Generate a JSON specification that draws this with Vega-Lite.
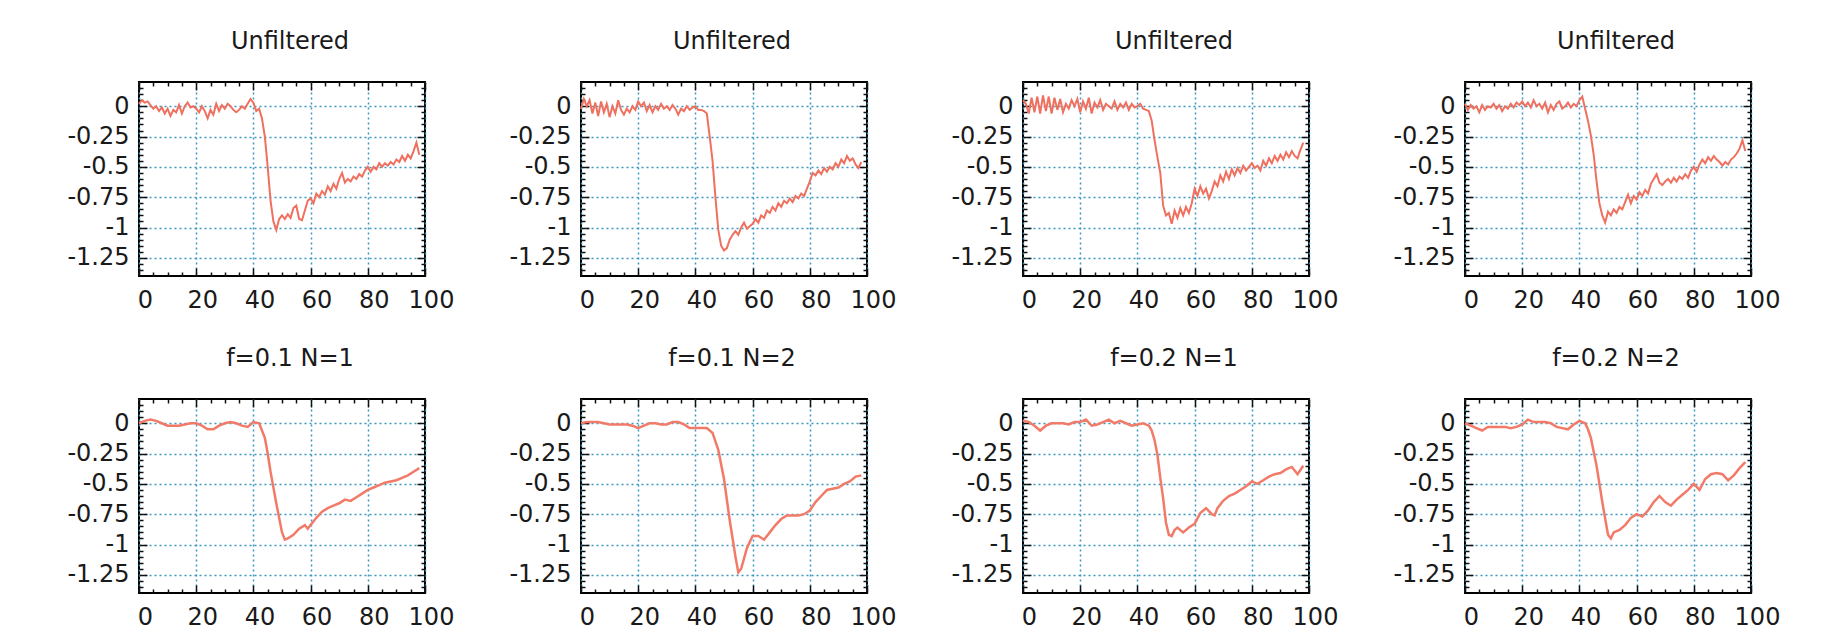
{
"$schema": "https://vega.github.io/schema/vega-lite/v6.json",
"background": "white",
"padding": {"left": 65, "top": 29, "right": 5, "bottom": 5},
"config": {
 "view": {"stroke": "#000", "strokeWidth": 2},
 "axis": {"domain": false, "labelFont": "DejaVu Sans", "labelFontSize": 24, "labelColor": "#1a1a1a", "tickColor": "#111", "tickWidth": 1.5, "gridColor": "#3a98c0", "gridDash": [2, 3], "gridWidth": 1.5, "gridOpacity": 1, "labelFlush": false, "labelOverlap": false, "labelExpr": "'' + datum.value"},
 "title": {"font": "DejaVu Sans", "fontSize": 24, "fontWeight": "normal", "color": "#1a1a1a", "anchor": "middle", "frame": "group", "baseline": "alphabetic", "offset": 27, "dx": 8}
},
"datasets": {
 "p1": [{"x":0,"y":0.02},{"x":1,"y":0.05},{"x":2,"y":0.03},{"x":3,"y":0.04},{"x":4,"y":0.01},{"x":5,"y":-0.02},{"x":6,"y":0.0},{"x":7,"y":-0.04},{"x":8,"y":-0.01},{"x":9,"y":-0.06},{"x":10,"y":-0.02},{"x":11,"y":-0.08},{"x":12,"y":-0.03},{"x":13,"y":-0.05},{"x":14,"y":0.01},{"x":15,"y":-0.06},{"x":16,"y":0.0},{"x":17,"y":0.03},{"x":18,"y":-0.01},{"x":19,"y":0.0},{"x":20,"y":-0.02},{"x":21,"y":-0.05},{"x":22,"y":0.0},{"x":23,"y":-0.04},{"x":24,"y":-0.1},{"x":25,"y":-0.03},{"x":26,"y":-0.07},{"x":27,"y":0.02},{"x":28,"y":-0.04},{"x":29,"y":0.01},{"x":30,"y":-0.02},{"x":31,"y":0.02},{"x":32,"y":0.0},{"x":33,"y":-0.03},{"x":34,"y":-0.05},{"x":35,"y":-0.03},{"x":36,"y":0.0},{"x":37,"y":-0.02},{"x":38,"y":0.02},{"x":39,"y":0.06},{"x":40,"y":0.03},{"x":41,"y":-0.04},{"x":42,"y":-0.02},{"x":43,"y":-0.1},{"x":44,"y":-0.25},{"x":45,"y":-0.5},{"x":46,"y":-0.78},{"x":47,"y":-0.95},{"x":48,"y":-1.02},{"x":49,"y":-0.93},{"x":50,"y":-0.9},{"x":51,"y":-0.93},{"x":52,"y":-0.89},{"x":53,"y":-0.92},{"x":54,"y":-0.84},{"x":55,"y":-0.82},{"x":56,"y":-0.93},{"x":57,"y":-0.94},{"x":58,"y":-0.86},{"x":59,"y":-0.78},{"x":60,"y":-0.76},{"x":61,"y":-0.8},{"x":62,"y":-0.72},{"x":63,"y":-0.75},{"x":64,"y":-0.7},{"x":65,"y":-0.73},{"x":66,"y":-0.66},{"x":67,"y":-0.7},{"x":68,"y":-0.64},{"x":69,"y":-0.68},{"x":70,"y":-0.6},{"x":71,"y":-0.55},{"x":72,"y":-0.63},{"x":73,"y":-0.6},{"x":74,"y":-0.62},{"x":75,"y":-0.58},{"x":76,"y":-0.6},{"x":77,"y":-0.56},{"x":78,"y":-0.58},{"x":79,"y":-0.53},{"x":80,"y":-0.5},{"x":81,"y":-0.54},{"x":82,"y":-0.5},{"x":83,"y":-0.52},{"x":84,"y":-0.47},{"x":85,"y":-0.5},{"x":86,"y":-0.47},{"x":87,"y":-0.49},{"x":88,"y":-0.46},{"x":89,"y":-0.48},{"x":90,"y":-0.44},{"x":91,"y":-0.46},{"x":92,"y":-0.41},{"x":93,"y":-0.45},{"x":94,"y":-0.4},{"x":95,"y":-0.43},{"x":96,"y":-0.37},{"x":97,"y":-0.3},{"x":98,"y":-0.4}],
 "p2": [{"x":0,"y":-0.02},{"x":1,"y":0.06},{"x":2,"y":0.0},{"x":3,"y":0.05},{"x":4,"y":-0.06},{"x":5,"y":0.03},{"x":6,"y":-0.08},{"x":7,"y":0.04},{"x":8,"y":-0.05},{"x":9,"y":0.02},{"x":10,"y":-0.09},{"x":11,"y":0.0},{"x":12,"y":-0.06},{"x":13,"y":0.05},{"x":14,"y":-0.03},{"x":15,"y":-0.07},{"x":16,"y":-0.02},{"x":17,"y":-0.05},{"x":18,"y":0.0},{"x":19,"y":-0.03},{"x":20,"y":0.04},{"x":21,"y":0.0},{"x":22,"y":0.03},{"x":23,"y":-0.04},{"x":24,"y":0.01},{"x":25,"y":-0.05},{"x":26,"y":0.0},{"x":27,"y":-0.03},{"x":28,"y":0.02},{"x":29,"y":-0.02},{"x":30,"y":0.0},{"x":31,"y":-0.03},{"x":32,"y":0.01},{"x":33,"y":-0.02},{"x":34,"y":-0.07},{"x":35,"y":-0.02},{"x":36,"y":-0.04},{"x":37,"y":0.0},{"x":38,"y":-0.03},{"x":39,"y":-0.01},{"x":40,"y":0.0},{"x":41,"y":-0.03},{"x":42,"y":-0.03},{"x":43,"y":-0.04},{"x":44,"y":-0.06},{"x":45,"y":-0.25},{"x":46,"y":-0.45},{"x":47,"y":-0.75},{"x":48,"y":-1.02},{"x":49,"y":-1.15},{"x":50,"y":-1.19},{"x":51,"y":-1.17},{"x":52,"y":-1.1},{"x":53,"y":-1.06},{"x":54,"y":-1.03},{"x":55,"y":-1.06},{"x":56,"y":-1.0},{"x":57,"y":-0.96},{"x":58,"y":-1.01},{"x":59,"y":-0.99},{"x":60,"y":-0.97},{"x":61,"y":-0.93},{"x":62,"y":-0.96},{"x":63,"y":-0.9},{"x":64,"y":-0.92},{"x":65,"y":-0.86},{"x":66,"y":-0.88},{"x":67,"y":-0.83},{"x":68,"y":-0.86},{"x":69,"y":-0.8},{"x":70,"y":-0.83},{"x":71,"y":-0.78},{"x":72,"y":-0.8},{"x":73,"y":-0.76},{"x":74,"y":-0.79},{"x":75,"y":-0.74},{"x":76,"y":-0.76},{"x":77,"y":-0.72},{"x":78,"y":-0.74},{"x":79,"y":-0.68},{"x":80,"y":-0.62},{"x":81,"y":-0.55},{"x":82,"y":-0.57},{"x":83,"y":-0.53},{"x":84,"y":-0.56},{"x":85,"y":-0.51},{"x":86,"y":-0.54},{"x":87,"y":-0.5},{"x":88,"y":-0.52},{"x":89,"y":-0.47},{"x":90,"y":-0.5},{"x":91,"y":-0.44},{"x":92,"y":-0.47},{"x":93,"y":-0.41},{"x":94,"y":-0.45},{"x":95,"y":-0.43},{"x":96,"y":-0.48},{"x":97,"y":-0.51},{"x":98,"y":-0.46}],
 "p3": [{"x":0,"y":0.05},{"x":1,"y":0.02},{"x":2,"y":-0.06},{"x":3,"y":0.07},{"x":4,"y":-0.05},{"x":5,"y":0.08},{"x":6,"y":-0.06},{"x":7,"y":0.09},{"x":8,"y":-0.04},{"x":9,"y":0.08},{"x":10,"y":-0.06},{"x":11,"y":0.07},{"x":12,"y":-0.03},{"x":13,"y":0.06},{"x":14,"y":-0.05},{"x":15,"y":0.02},{"x":16,"y":-0.02},{"x":17,"y":0.05},{"x":18,"y":0.0},{"x":19,"y":0.06},{"x":20,"y":-0.05},{"x":21,"y":0.04},{"x":22,"y":-0.02},{"x":23,"y":0.07},{"x":24,"y":-0.06},{"x":25,"y":0.03},{"x":26,"y":-0.01},{"x":27,"y":0.05},{"x":28,"y":-0.03},{"x":29,"y":0.02},{"x":30,"y":0.0},{"x":31,"y":-0.02},{"x":32,"y":0.04},{"x":33,"y":-0.03},{"x":34,"y":0.02},{"x":35,"y":-0.01},{"x":36,"y":0.03},{"x":37,"y":-0.03},{"x":38,"y":0.02},{"x":39,"y":-0.01},{"x":40,"y":0.0},{"x":41,"y":0.02},{"x":42,"y":-0.02},{"x":43,"y":-0.03},{"x":44,"y":-0.04},{"x":45,"y":-0.12},{"x":46,"y":-0.28},{"x":47,"y":-0.42},{"x":48,"y":-0.55},{"x":49,"y":-0.82},{"x":50,"y":-0.9},{"x":51,"y":-0.88},{"x":52,"y":-0.97},{"x":53,"y":-0.86},{"x":54,"y":-0.92},{"x":55,"y":-0.84},{"x":56,"y":-0.9},{"x":57,"y":-0.83},{"x":58,"y":-0.88},{"x":59,"y":-0.8},{"x":60,"y":-0.68},{"x":61,"y":-0.74},{"x":62,"y":-0.66},{"x":63,"y":-0.72},{"x":64,"y":-0.68},{"x":65,"y":-0.76},{"x":66,"y":-0.7},{"x":67,"y":-0.62},{"x":68,"y":-0.66},{"x":69,"y":-0.57},{"x":70,"y":-0.62},{"x":71,"y":-0.54},{"x":72,"y":-0.6},{"x":73,"y":-0.52},{"x":74,"y":-0.57},{"x":75,"y":-0.51},{"x":76,"y":-0.55},{"x":77,"y":-0.49},{"x":78,"y":-0.53},{"x":79,"y":-0.5},{"x":80,"y":-0.47},{"x":81,"y":-0.51},{"x":82,"y":-0.49},{"x":83,"y":-0.53},{"x":84,"y":-0.45},{"x":85,"y":-0.49},{"x":86,"y":-0.43},{"x":87,"y":-0.47},{"x":88,"y":-0.41},{"x":89,"y":-0.45},{"x":90,"y":-0.4},{"x":91,"y":-0.44},{"x":92,"y":-0.38},{"x":93,"y":-0.42},{"x":94,"y":-0.37},{"x":95,"y":-0.41},{"x":96,"y":-0.43},{"x":97,"y":-0.36},{"x":98,"y":-0.3}],
 "p4": [{"x":0,"y":0.02},{"x":1,"y":-0.03},{"x":2,"y":0.01},{"x":3,"y":-0.02},{"x":4,"y":0.0},{"x":5,"y":-0.05},{"x":6,"y":0.01},{"x":7,"y":-0.03},{"x":8,"y":0.0},{"x":9,"y":-0.01},{"x":10,"y":0.02},{"x":11,"y":-0.02},{"x":12,"y":0.01},{"x":13,"y":-0.04},{"x":14,"y":0.0},{"x":15,"y":-0.02},{"x":16,"y":0.02},{"x":17,"y":-0.01},{"x":18,"y":0.03},{"x":19,"y":0.01},{"x":20,"y":0.04},{"x":21,"y":0.0},{"x":22,"y":0.03},{"x":23,"y":-0.01},{"x":24,"y":0.05},{"x":25,"y":0.0},{"x":26,"y":0.02},{"x":27,"y":-0.02},{"x":28,"y":0.03},{"x":29,"y":-0.05},{"x":30,"y":0.01},{"x":31,"y":-0.03},{"x":32,"y":0.02},{"x":33,"y":0.04},{"x":34,"y":-0.02},{"x":35,"y":0.0},{"x":36,"y":0.03},{"x":37,"y":-0.01},{"x":38,"y":0.02},{"x":39,"y":0.0},{"x":40,"y":0.05},{"x":41,"y":0.08},{"x":42,"y":-0.02},{"x":43,"y":-0.12},{"x":44,"y":-0.24},{"x":45,"y":-0.4},{"x":46,"y":-0.62},{"x":47,"y":-0.8},{"x":48,"y":-0.9},{"x":49,"y":-0.96},{"x":50,"y":-0.87},{"x":51,"y":-0.9},{"x":52,"y":-0.85},{"x":53,"y":-0.88},{"x":54,"y":-0.83},{"x":55,"y":-0.85},{"x":56,"y":-0.79},{"x":57,"y":-0.73},{"x":58,"y":-0.8},{"x":59,"y":-0.74},{"x":60,"y":-0.77},{"x":61,"y":-0.71},{"x":62,"y":-0.74},{"x":63,"y":-0.69},{"x":64,"y":-0.72},{"x":65,"y":-0.64},{"x":66,"y":-0.6},{"x":67,"y":-0.56},{"x":68,"y":-0.63},{"x":69,"y":-0.65},{"x":70,"y":-0.62},{"x":71,"y":-0.6},{"x":72,"y":-0.63},{"x":73,"y":-0.59},{"x":74,"y":-0.62},{"x":75,"y":-0.58},{"x":76,"y":-0.6},{"x":77,"y":-0.56},{"x":78,"y":-0.59},{"x":79,"y":-0.53},{"x":80,"y":-0.5},{"x":81,"y":-0.54},{"x":82,"y":-0.48},{"x":83,"y":-0.44},{"x":84,"y":-0.47},{"x":85,"y":-0.42},{"x":86,"y":-0.45},{"x":87,"y":-0.41},{"x":88,"y":-0.44},{"x":89,"y":-0.46},{"x":90,"y":-0.49},{"x":91,"y":-0.46},{"x":92,"y":-0.48},{"x":93,"y":-0.44},{"x":94,"y":-0.42},{"x":95,"y":-0.39},{"x":96,"y":-0.35},{"x":97,"y":-0.28},{"x":98,"y":-0.37}],
 "p5": [{"x":0,"y":0.0},{"x":2,"y":0.02},{"x":4,"y":0.03},{"x":6,"y":0.02},{"x":8,"y":0.0},{"x":10,"y":-0.02},{"x":12,"y":-0.02},{"x":14,"y":-0.02},{"x":16,"y":-0.01},{"x":18,"y":0.0},{"x":20,"y":0.0},{"x":22,"y":-0.02},{"x":24,"y":-0.05},{"x":26,"y":-0.05},{"x":28,"y":-0.02},{"x":30,"y":0.0},{"x":32,"y":0.01},{"x":34,"y":0.0},{"x":36,"y":-0.02},{"x":38,"y":-0.03},{"x":40,"y":0.01},{"x":42,"y":0.0},{"x":44,"y":-0.12},{"x":45,"y":-0.25},{"x":46,"y":-0.4},{"x":48,"y":-0.66},{"x":50,"y":-0.9},{"x":51,"y":-0.96},{"x":52,"y":-0.95},{"x":54,"y":-0.92},{"x":56,"y":-0.87},{"x":58,"y":-0.84},{"x":59,"y":-0.87},{"x":60,"y":-0.84},{"x":62,"y":-0.78},{"x":64,"y":-0.73},{"x":66,"y":-0.7},{"x":68,"y":-0.68},{"x":70,"y":-0.66},{"x":72,"y":-0.63},{"x":74,"y":-0.64},{"x":76,"y":-0.61},{"x":78,"y":-0.58},{"x":80,"y":-0.55},{"x":82,"y":-0.53},{"x":84,"y":-0.51},{"x":86,"y":-0.49},{"x":88,"y":-0.48},{"x":90,"y":-0.47},{"x":92,"y":-0.45},{"x":94,"y":-0.43},{"x":96,"y":-0.4},{"x":98,"y":-0.37}],
 "p6": [{"x":0,"y":0.0},{"x":2,"y":0.01},{"x":4,"y":0.01},{"x":6,"y":0.01},{"x":8,"y":0.0},{"x":10,"y":-0.01},{"x":12,"y":-0.01},{"x":14,"y":-0.01},{"x":16,"y":-0.01},{"x":18,"y":-0.02},{"x":20,"y":-0.04},{"x":22,"y":-0.02},{"x":24,"y":0.0},{"x":26,"y":0.0},{"x":28,"y":-0.01},{"x":30,"y":-0.01},{"x":32,"y":0.01},{"x":34,"y":0.01},{"x":36,"y":-0.01},{"x":38,"y":-0.04},{"x":40,"y":-0.04},{"x":42,"y":-0.04},{"x":44,"y":-0.04},{"x":46,"y":-0.08},{"x":48,"y":-0.22},{"x":50,"y":-0.46},{"x":52,"y":-0.8},{"x":54,"y":-1.1},{"x":55,"y":-1.23},{"x":56,"y":-1.2},{"x":58,"y":-1.03},{"x":60,"y":-0.93},{"x":62,"y":-0.93},{"x":64,"y":-0.96},{"x":66,"y":-0.9},{"x":68,"y":-0.84},{"x":70,"y":-0.79},{"x":72,"y":-0.76},{"x":74,"y":-0.76},{"x":76,"y":-0.76},{"x":78,"y":-0.75},{"x":80,"y":-0.72},{"x":82,"y":-0.65},{"x":84,"y":-0.6},{"x":86,"y":-0.55},{"x":88,"y":-0.54},{"x":90,"y":-0.53},{"x":92,"y":-0.5},{"x":94,"y":-0.48},{"x":96,"y":-0.44},{"x":98,"y":-0.43}],
 "p7": [{"x":0,"y":0.02},{"x":2,"y":0.01},{"x":4,"y":-0.02},{"x":6,"y":-0.06},{"x":8,"y":-0.02},{"x":10,"y":0.0},{"x":12,"y":0.0},{"x":14,"y":0.0},{"x":16,"y":-0.01},{"x":18,"y":0.01},{"x":20,"y":0.01},{"x":22,"y":0.03},{"x":24,"y":-0.02},{"x":26,"y":-0.01},{"x":28,"y":0.01},{"x":30,"y":0.03},{"x":32,"y":0.0},{"x":34,"y":0.02},{"x":36,"y":0.0},{"x":38,"y":-0.02},{"x":40,"y":-0.01},{"x":42,"y":0.0},{"x":44,"y":-0.02},{"x":45,"y":-0.06},{"x":46,"y":-0.14},{"x":47,"y":-0.26},{"x":48,"y":-0.45},{"x":49,"y":-0.62},{"x":50,"y":-0.82},{"x":51,"y":-0.92},{"x":52,"y":-0.93},{"x":53,"y":-0.88},{"x":54,"y":-0.86},{"x":56,"y":-0.9},{"x":58,"y":-0.86},{"x":60,"y":-0.83},{"x":62,"y":-0.74},{"x":64,"y":-0.7},{"x":66,"y":-0.75},{"x":67,"y":-0.76},{"x":68,"y":-0.7},{"x":70,"y":-0.64},{"x":72,"y":-0.6},{"x":74,"y":-0.58},{"x":76,"y":-0.55},{"x":78,"y":-0.52},{"x":80,"y":-0.48},{"x":82,"y":-0.5},{"x":84,"y":-0.47},{"x":86,"y":-0.44},{"x":88,"y":-0.42},{"x":90,"y":-0.41},{"x":92,"y":-0.38},{"x":94,"y":-0.36},{"x":96,"y":-0.42},{"x":98,"y":-0.35}],
 "p8": [{"x":0,"y":0.0},{"x":2,"y":-0.02},{"x":4,"y":-0.04},{"x":6,"y":-0.06},{"x":8,"y":-0.03},{"x":10,"y":-0.03},{"x":12,"y":-0.03},{"x":14,"y":-0.03},{"x":16,"y":-0.04},{"x":18,"y":-0.03},{"x":20,"y":-0.01},{"x":22,"y":0.03},{"x":24,"y":0.01},{"x":26,"y":0.01},{"x":28,"y":0.01},{"x":30,"y":0.0},{"x":32,"y":-0.03},{"x":34,"y":-0.04},{"x":36,"y":-0.05},{"x":38,"y":-0.01},{"x":40,"y":0.02},{"x":42,"y":0.0},{"x":43,"y":-0.05},{"x":44,"y":-0.12},{"x":46,"y":-0.35},{"x":48,"y":-0.65},{"x":50,"y":-0.92},{"x":51,"y":-0.95},{"x":52,"y":-0.9},{"x":54,"y":-0.88},{"x":56,"y":-0.84},{"x":58,"y":-0.78},{"x":60,"y":-0.75},{"x":62,"y":-0.77},{"x":64,"y":-0.72},{"x":66,"y":-0.65},{"x":68,"y":-0.6},{"x":70,"y":-0.65},{"x":72,"y":-0.68},{"x":74,"y":-0.63},{"x":76,"y":-0.59},{"x":78,"y":-0.55},{"x":80,"y":-0.5},{"x":82,"y":-0.55},{"x":84,"y":-0.46},{"x":86,"y":-0.42},{"x":88,"y":-0.41},{"x":90,"y":-0.42},{"x":92,"y":-0.47},{"x":94,"y":-0.43},{"x":96,"y":-0.37},{"x":98,"y":-0.32}]
},
"columns": 4,
"spacing": {"row": 123, "column": 156},
"bounds": "flush",
"concat": [
 {"title": {"text": "Unfiltered"}, "width": 286, "height": 194, "data": {"name": "p1"}, "resolve": {"axis": {"x": "independent", "y": "independent"}},
  "layer": [
   {"mark": {"type": "line", "color": "#f07060", "strokeWidth": 2}, "encoding": {"x": {"field": "x", "type": "quantitative", "scale": {"domain": [0, 100], "nice": false, "zero": false}, "axis": {"orient": "bottom", "title": null, "values": [0, 20, 40, 60, 80, 100], "grid": true, "ticks": false, "labelPadding": 12, "labelOffset": 6}}, "y": {"field": "y", "type": "quantitative", "scale": {"domain": [-1.4, 0.2], "nice": false, "zero": false}, "axis": {"orient": "left", "title": null, "values": [0, -0.25, -0.5, -0.75, -1, -1.25], "grid": true, "ticks": false, "labelPadding": 10}}}},
   {"mark": {"type": "line", "strokeOpacity": 0}, "encoding": {"x": {"field": "x", "type": "quantitative", "scale": {"domain": [0, 100], "nice": false, "zero": false}, "axis": {"orient": "bottom", "title": null, "values": [0, 20, 40, 60, 80, 100], "labels": false, "grid": false, "tickSize": -8}}, "y": {"field": "y", "type": "quantitative", "scale": {"domain": [-1.4, 0.2], "nice": false, "zero": false}, "axis": {"orient": "left", "title": null, "values": [0, -0.25, -0.5, -0.75, -1, -1.25], "labels": false, "grid": false, "tickSize": -8}}}},
   {"mark": {"type": "line", "strokeOpacity": 0}, "encoding": {"x": {"field": "x", "type": "quantitative", "scale": {"domain": [0, 100], "nice": false, "zero": false}, "axis": {"orient": "top", "title": null, "values": [0, 20, 40, 60, 80, 100], "labels": false, "grid": false, "tickSize": -8}}, "y": {"field": "y", "type": "quantitative", "scale": {"domain": [-1.4, 0.2], "nice": false, "zero": false}, "axis": {"orient": "right", "title": null, "values": [0, -0.25, -0.5, -0.75, -1, -1.25], "labels": false, "grid": false, "tickSize": -8}}}},
   {"mark": {"type": "line", "strokeOpacity": 0}, "encoding": {"x": {"field": "x", "type": "quantitative", "scale": {"domain": [0, 100], "nice": false, "zero": false}, "axis": {"orient": "bottom", "title": null, "values": [5, 10, 15, 25, 30, 35, 45, 50, 55, 65, 70, 75, 85, 90, 95], "labels": false, "grid": false, "tickSize": -4}}, "y": {"field": "y", "type": "quantitative", "scale": {"domain": [-1.4, 0.2], "nice": false, "zero": false}, "axis": {"orient": "left", "title": null, "values": [0.15, 0.1, 0.05, -0.05, -0.1, -0.15, -0.2, -0.3, -0.35, -0.4, -0.45, -0.55, -0.6, -0.65, -0.7, -0.8, -0.85, -0.9, -0.95, -1.05, -1.1, -1.15, -1.2, -1.3, -1.35], "labels": false, "grid": false, "tickSize": -4}}}},
   {"mark": {"type": "line", "strokeOpacity": 0}, "encoding": {"x": {"field": "x", "type": "quantitative", "scale": {"domain": [0, 100], "nice": false, "zero": false}, "axis": {"orient": "top", "title": null, "values": [5, 10, 15, 25, 30, 35, 45, 50, 55, 65, 70, 75, 85, 90, 95], "labels": false, "grid": false, "tickSize": -4}}, "y": {"field": "y", "type": "quantitative", "scale": {"domain": [-1.4, 0.2], "nice": false, "zero": false}, "axis": {"orient": "right", "title": null, "values": [0.15, 0.1, 0.05, -0.05, -0.1, -0.15, -0.2, -0.3, -0.35, -0.4, -0.45, -0.55, -0.6, -0.65, -0.7, -0.8, -0.85, -0.9, -0.95, -1.05, -1.1, -1.15, -1.2, -1.3, -1.35], "labels": false, "grid": false, "tickSize": -4}}}}
  ]},
 {"title": {"text": "Unfiltered"}, "width": 286, "height": 194, "data": {"name": "p2"}, "resolve": {"axis": {"x": "independent", "y": "independent"}},
  "layer": [
   {"mark": {"type": "line", "color": "#f07060", "strokeWidth": 2}, "encoding": {"x": {"field": "x", "type": "quantitative", "scale": {"domain": [0, 100], "nice": false, "zero": false}, "axis": {"orient": "bottom", "title": null, "values": [0, 20, 40, 60, 80, 100], "grid": true, "ticks": false, "labelPadding": 12, "labelOffset": 6}}, "y": {"field": "y", "type": "quantitative", "scale": {"domain": [-1.4, 0.2], "nice": false, "zero": false}, "axis": {"orient": "left", "title": null, "values": [0, -0.25, -0.5, -0.75, -1, -1.25], "grid": true, "ticks": false, "labelPadding": 10}}}},
   {"mark": {"type": "line", "strokeOpacity": 0}, "encoding": {"x": {"field": "x", "type": "quantitative", "scale": {"domain": [0, 100], "nice": false, "zero": false}, "axis": {"orient": "bottom", "title": null, "values": [0, 20, 40, 60, 80, 100], "labels": false, "grid": false, "tickSize": -8}}, "y": {"field": "y", "type": "quantitative", "scale": {"domain": [-1.4, 0.2], "nice": false, "zero": false}, "axis": {"orient": "left", "title": null, "values": [0, -0.25, -0.5, -0.75, -1, -1.25], "labels": false, "grid": false, "tickSize": -8}}}},
   {"mark": {"type": "line", "strokeOpacity": 0}, "encoding": {"x": {"field": "x", "type": "quantitative", "scale": {"domain": [0, 100], "nice": false, "zero": false}, "axis": {"orient": "top", "title": null, "values": [0, 20, 40, 60, 80, 100], "labels": false, "grid": false, "tickSize": -8}}, "y": {"field": "y", "type": "quantitative", "scale": {"domain": [-1.4, 0.2], "nice": false, "zero": false}, "axis": {"orient": "right", "title": null, "values": [0, -0.25, -0.5, -0.75, -1, -1.25], "labels": false, "grid": false, "tickSize": -8}}}},
   {"mark": {"type": "line", "strokeOpacity": 0}, "encoding": {"x": {"field": "x", "type": "quantitative", "scale": {"domain": [0, 100], "nice": false, "zero": false}, "axis": {"orient": "bottom", "title": null, "values": [5, 10, 15, 25, 30, 35, 45, 50, 55, 65, 70, 75, 85, 90, 95], "labels": false, "grid": false, "tickSize": -4}}, "y": {"field": "y", "type": "quantitative", "scale": {"domain": [-1.4, 0.2], "nice": false, "zero": false}, "axis": {"orient": "left", "title": null, "values": [0.15, 0.1, 0.05, -0.05, -0.1, -0.15, -0.2, -0.3, -0.35, -0.4, -0.45, -0.55, -0.6, -0.65, -0.7, -0.8, -0.85, -0.9, -0.95, -1.05, -1.1, -1.15, -1.2, -1.3, -1.35], "labels": false, "grid": false, "tickSize": -4}}}},
   {"mark": {"type": "line", "strokeOpacity": 0}, "encoding": {"x": {"field": "x", "type": "quantitative", "scale": {"domain": [0, 100], "nice": false, "zero": false}, "axis": {"orient": "top", "title": null, "values": [5, 10, 15, 25, 30, 35, 45, 50, 55, 65, 70, 75, 85, 90, 95], "labels": false, "grid": false, "tickSize": -4}}, "y": {"field": "y", "type": "quantitative", "scale": {"domain": [-1.4, 0.2], "nice": false, "zero": false}, "axis": {"orient": "right", "title": null, "values": [0.15, 0.1, 0.05, -0.05, -0.1, -0.15, -0.2, -0.3, -0.35, -0.4, -0.45, -0.55, -0.6, -0.65, -0.7, -0.8, -0.85, -0.9, -0.95, -1.05, -1.1, -1.15, -1.2, -1.3, -1.35], "labels": false, "grid": false, "tickSize": -4}}}}
  ]},
 {"title": {"text": "Unfiltered"}, "width": 286, "height": 194, "data": {"name": "p3"}, "resolve": {"axis": {"x": "independent", "y": "independent"}},
  "layer": [
   {"mark": {"type": "line", "color": "#f07060", "strokeWidth": 2}, "encoding": {"x": {"field": "x", "type": "quantitative", "scale": {"domain": [0, 100], "nice": false, "zero": false}, "axis": {"orient": "bottom", "title": null, "values": [0, 20, 40, 60, 80, 100], "grid": true, "ticks": false, "labelPadding": 12, "labelOffset": 6}}, "y": {"field": "y", "type": "quantitative", "scale": {"domain": [-1.4, 0.2], "nice": false, "zero": false}, "axis": {"orient": "left", "title": null, "values": [0, -0.25, -0.5, -0.75, -1, -1.25], "grid": true, "ticks": false, "labelPadding": 10}}}},
   {"mark": {"type": "line", "strokeOpacity": 0}, "encoding": {"x": {"field": "x", "type": "quantitative", "scale": {"domain": [0, 100], "nice": false, "zero": false}, "axis": {"orient": "bottom", "title": null, "values": [0, 20, 40, 60, 80, 100], "labels": false, "grid": false, "tickSize": -8}}, "y": {"field": "y", "type": "quantitative", "scale": {"domain": [-1.4, 0.2], "nice": false, "zero": false}, "axis": {"orient": "left", "title": null, "values": [0, -0.25, -0.5, -0.75, -1, -1.25], "labels": false, "grid": false, "tickSize": -8}}}},
   {"mark": {"type": "line", "strokeOpacity": 0}, "encoding": {"x": {"field": "x", "type": "quantitative", "scale": {"domain": [0, 100], "nice": false, "zero": false}, "axis": {"orient": "top", "title": null, "values": [0, 20, 40, 60, 80, 100], "labels": false, "grid": false, "tickSize": -8}}, "y": {"field": "y", "type": "quantitative", "scale": {"domain": [-1.4, 0.2], "nice": false, "zero": false}, "axis": {"orient": "right", "title": null, "values": [0, -0.25, -0.5, -0.75, -1, -1.25], "labels": false, "grid": false, "tickSize": -8}}}},
   {"mark": {"type": "line", "strokeOpacity": 0}, "encoding": {"x": {"field": "x", "type": "quantitative", "scale": {"domain": [0, 100], "nice": false, "zero": false}, "axis": {"orient": "bottom", "title": null, "values": [5, 10, 15, 25, 30, 35, 45, 50, 55, 65, 70, 75, 85, 90, 95], "labels": false, "grid": false, "tickSize": -4}}, "y": {"field": "y", "type": "quantitative", "scale": {"domain": [-1.4, 0.2], "nice": false, "zero": false}, "axis": {"orient": "left", "title": null, "values": [0.15, 0.1, 0.05, -0.05, -0.1, -0.15, -0.2, -0.3, -0.35, -0.4, -0.45, -0.55, -0.6, -0.65, -0.7, -0.8, -0.85, -0.9, -0.95, -1.05, -1.1, -1.15, -1.2, -1.3, -1.35], "labels": false, "grid": false, "tickSize": -4}}}},
   {"mark": {"type": "line", "strokeOpacity": 0}, "encoding": {"x": {"field": "x", "type": "quantitative", "scale": {"domain": [0, 100], "nice": false, "zero": false}, "axis": {"orient": "top", "title": null, "values": [5, 10, 15, 25, 30, 35, 45, 50, 55, 65, 70, 75, 85, 90, 95], "labels": false, "grid": false, "tickSize": -4}}, "y": {"field": "y", "type": "quantitative", "scale": {"domain": [-1.4, 0.2], "nice": false, "zero": false}, "axis": {"orient": "right", "title": null, "values": [0.15, 0.1, 0.05, -0.05, -0.1, -0.15, -0.2, -0.3, -0.35, -0.4, -0.45, -0.55, -0.6, -0.65, -0.7, -0.8, -0.85, -0.9, -0.95, -1.05, -1.1, -1.15, -1.2, -1.3, -1.35], "labels": false, "grid": false, "tickSize": -4}}}}
  ]},
 {"title": {"text": "Unfiltered"}, "width": 286, "height": 194, "data": {"name": "p4"}, "resolve": {"axis": {"x": "independent", "y": "independent"}},
  "layer": [
   {"mark": {"type": "line", "color": "#f07060", "strokeWidth": 2}, "encoding": {"x": {"field": "x", "type": "quantitative", "scale": {"domain": [0, 100], "nice": false, "zero": false}, "axis": {"orient": "bottom", "title": null, "values": [0, 20, 40, 60, 80, 100], "grid": true, "ticks": false, "labelPadding": 12, "labelOffset": 6}}, "y": {"field": "y", "type": "quantitative", "scale": {"domain": [-1.4, 0.2], "nice": false, "zero": false}, "axis": {"orient": "left", "title": null, "values": [0, -0.25, -0.5, -0.75, -1, -1.25], "grid": true, "ticks": false, "labelPadding": 10}}}},
   {"mark": {"type": "line", "strokeOpacity": 0}, "encoding": {"x": {"field": "x", "type": "quantitative", "scale": {"domain": [0, 100], "nice": false, "zero": false}, "axis": {"orient": "bottom", "title": null, "values": [0, 20, 40, 60, 80, 100], "labels": false, "grid": false, "tickSize": -8}}, "y": {"field": "y", "type": "quantitative", "scale": {"domain": [-1.4, 0.2], "nice": false, "zero": false}, "axis": {"orient": "left", "title": null, "values": [0, -0.25, -0.5, -0.75, -1, -1.25], "labels": false, "grid": false, "tickSize": -8}}}},
   {"mark": {"type": "line", "strokeOpacity": 0}, "encoding": {"x": {"field": "x", "type": "quantitative", "scale": {"domain": [0, 100], "nice": false, "zero": false}, "axis": {"orient": "top", "title": null, "values": [0, 20, 40, 60, 80, 100], "labels": false, "grid": false, "tickSize": -8}}, "y": {"field": "y", "type": "quantitative", "scale": {"domain": [-1.4, 0.2], "nice": false, "zero": false}, "axis": {"orient": "right", "title": null, "values": [0, -0.25, -0.5, -0.75, -1, -1.25], "labels": false, "grid": false, "tickSize": -8}}}},
   {"mark": {"type": "line", "strokeOpacity": 0}, "encoding": {"x": {"field": "x", "type": "quantitative", "scale": {"domain": [0, 100], "nice": false, "zero": false}, "axis": {"orient": "bottom", "title": null, "values": [5, 10, 15, 25, 30, 35, 45, 50, 55, 65, 70, 75, 85, 90, 95], "labels": false, "grid": false, "tickSize": -4}}, "y": {"field": "y", "type": "quantitative", "scale": {"domain": [-1.4, 0.2], "nice": false, "zero": false}, "axis": {"orient": "left", "title": null, "values": [0.15, 0.1, 0.05, -0.05, -0.1, -0.15, -0.2, -0.3, -0.35, -0.4, -0.45, -0.55, -0.6, -0.65, -0.7, -0.8, -0.85, -0.9, -0.95, -1.05, -1.1, -1.15, -1.2, -1.3, -1.35], "labels": false, "grid": false, "tickSize": -4}}}},
   {"mark": {"type": "line", "strokeOpacity": 0}, "encoding": {"x": {"field": "x", "type": "quantitative", "scale": {"domain": [0, 100], "nice": false, "zero": false}, "axis": {"orient": "top", "title": null, "values": [5, 10, 15, 25, 30, 35, 45, 50, 55, 65, 70, 75, 85, 90, 95], "labels": false, "grid": false, "tickSize": -4}}, "y": {"field": "y", "type": "quantitative", "scale": {"domain": [-1.4, 0.2], "nice": false, "zero": false}, "axis": {"orient": "right", "title": null, "values": [0.15, 0.1, 0.05, -0.05, -0.1, -0.15, -0.2, -0.3, -0.35, -0.4, -0.45, -0.55, -0.6, -0.65, -0.7, -0.8, -0.85, -0.9, -0.95, -1.05, -1.1, -1.15, -1.2, -1.3, -1.35], "labels": false, "grid": false, "tickSize": -4}}}}
  ]},
 {"title": {"text": "f=0.1 N=1"}, "width": 286, "height": 194, "data": {"name": "p5"}, "resolve": {"axis": {"x": "independent", "y": "independent"}},
  "layer": [
   {"mark": {"type": "line", "color": "#f27a68", "strokeWidth": 2.5}, "encoding": {"x": {"field": "x", "type": "quantitative", "scale": {"domain": [0, 100], "nice": false, "zero": false}, "axis": {"orient": "bottom", "title": null, "values": [0, 20, 40, 60, 80, 100], "grid": true, "ticks": false, "labelPadding": 12, "labelOffset": 6}}, "y": {"field": "y", "type": "quantitative", "scale": {"domain": [-1.4, 0.2], "nice": false, "zero": false}, "axis": {"orient": "left", "title": null, "values": [0, -0.25, -0.5, -0.75, -1, -1.25], "grid": true, "ticks": false, "labelPadding": 10}}}},
   {"mark": {"type": "line", "strokeOpacity": 0}, "encoding": {"x": {"field": "x", "type": "quantitative", "scale": {"domain": [0, 100], "nice": false, "zero": false}, "axis": {"orient": "bottom", "title": null, "values": [0, 20, 40, 60, 80, 100], "labels": false, "grid": false, "tickSize": -8}}, "y": {"field": "y", "type": "quantitative", "scale": {"domain": [-1.4, 0.2], "nice": false, "zero": false}, "axis": {"orient": "left", "title": null, "values": [0, -0.25, -0.5, -0.75, -1, -1.25], "labels": false, "grid": false, "tickSize": -8}}}},
   {"mark": {"type": "line", "strokeOpacity": 0}, "encoding": {"x": {"field": "x", "type": "quantitative", "scale": {"domain": [0, 100], "nice": false, "zero": false}, "axis": {"orient": "top", "title": null, "values": [0, 20, 40, 60, 80, 100], "labels": false, "grid": false, "tickSize": -8}}, "y": {"field": "y", "type": "quantitative", "scale": {"domain": [-1.4, 0.2], "nice": false, "zero": false}, "axis": {"orient": "right", "title": null, "values": [0, -0.25, -0.5, -0.75, -1, -1.25], "labels": false, "grid": false, "tickSize": -8}}}},
   {"mark": {"type": "line", "strokeOpacity": 0}, "encoding": {"x": {"field": "x", "type": "quantitative", "scale": {"domain": [0, 100], "nice": false, "zero": false}, "axis": {"orient": "bottom", "title": null, "values": [5, 10, 15, 25, 30, 35, 45, 50, 55, 65, 70, 75, 85, 90, 95], "labels": false, "grid": false, "tickSize": -4}}, "y": {"field": "y", "type": "quantitative", "scale": {"domain": [-1.4, 0.2], "nice": false, "zero": false}, "axis": {"orient": "left", "title": null, "values": [0.15, 0.1, 0.05, -0.05, -0.1, -0.15, -0.2, -0.3, -0.35, -0.4, -0.45, -0.55, -0.6, -0.65, -0.7, -0.8, -0.85, -0.9, -0.95, -1.05, -1.1, -1.15, -1.2, -1.3, -1.35], "labels": false, "grid": false, "tickSize": -4}}}},
   {"mark": {"type": "line", "strokeOpacity": 0}, "encoding": {"x": {"field": "x", "type": "quantitative", "scale": {"domain": [0, 100], "nice": false, "zero": false}, "axis": {"orient": "top", "title": null, "values": [5, 10, 15, 25, 30, 35, 45, 50, 55, 65, 70, 75, 85, 90, 95], "labels": false, "grid": false, "tickSize": -4}}, "y": {"field": "y", "type": "quantitative", "scale": {"domain": [-1.4, 0.2], "nice": false, "zero": false}, "axis": {"orient": "right", "title": null, "values": [0.15, 0.1, 0.05, -0.05, -0.1, -0.15, -0.2, -0.3, -0.35, -0.4, -0.45, -0.55, -0.6, -0.65, -0.7, -0.8, -0.85, -0.9, -0.95, -1.05, -1.1, -1.15, -1.2, -1.3, -1.35], "labels": false, "grid": false, "tickSize": -4}}}}
  ]},
 {"title": {"text": "f=0.1 N=2"}, "width": 286, "height": 194, "data": {"name": "p6"}, "resolve": {"axis": {"x": "independent", "y": "independent"}},
  "layer": [
   {"mark": {"type": "line", "color": "#f27a68", "strokeWidth": 2.5}, "encoding": {"x": {"field": "x", "type": "quantitative", "scale": {"domain": [0, 100], "nice": false, "zero": false}, "axis": {"orient": "bottom", "title": null, "values": [0, 20, 40, 60, 80, 100], "grid": true, "ticks": false, "labelPadding": 12, "labelOffset": 6}}, "y": {"field": "y", "type": "quantitative", "scale": {"domain": [-1.4, 0.2], "nice": false, "zero": false}, "axis": {"orient": "left", "title": null, "values": [0, -0.25, -0.5, -0.75, -1, -1.25], "grid": true, "ticks": false, "labelPadding": 10}}}},
   {"mark": {"type": "line", "strokeOpacity": 0}, "encoding": {"x": {"field": "x", "type": "quantitative", "scale": {"domain": [0, 100], "nice": false, "zero": false}, "axis": {"orient": "bottom", "title": null, "values": [0, 20, 40, 60, 80, 100], "labels": false, "grid": false, "tickSize": -8}}, "y": {"field": "y", "type": "quantitative", "scale": {"domain": [-1.4, 0.2], "nice": false, "zero": false}, "axis": {"orient": "left", "title": null, "values": [0, -0.25, -0.5, -0.75, -1, -1.25], "labels": false, "grid": false, "tickSize": -8}}}},
   {"mark": {"type": "line", "strokeOpacity": 0}, "encoding": {"x": {"field": "x", "type": "quantitative", "scale": {"domain": [0, 100], "nice": false, "zero": false}, "axis": {"orient": "top", "title": null, "values": [0, 20, 40, 60, 80, 100], "labels": false, "grid": false, "tickSize": -8}}, "y": {"field": "y", "type": "quantitative", "scale": {"domain": [-1.4, 0.2], "nice": false, "zero": false}, "axis": {"orient": "right", "title": null, "values": [0, -0.25, -0.5, -0.75, -1, -1.25], "labels": false, "grid": false, "tickSize": -8}}}},
   {"mark": {"type": "line", "strokeOpacity": 0}, "encoding": {"x": {"field": "x", "type": "quantitative", "scale": {"domain": [0, 100], "nice": false, "zero": false}, "axis": {"orient": "bottom", "title": null, "values": [5, 10, 15, 25, 30, 35, 45, 50, 55, 65, 70, 75, 85, 90, 95], "labels": false, "grid": false, "tickSize": -4}}, "y": {"field": "y", "type": "quantitative", "scale": {"domain": [-1.4, 0.2], "nice": false, "zero": false}, "axis": {"orient": "left", "title": null, "values": [0.15, 0.1, 0.05, -0.05, -0.1, -0.15, -0.2, -0.3, -0.35, -0.4, -0.45, -0.55, -0.6, -0.65, -0.7, -0.8, -0.85, -0.9, -0.95, -1.05, -1.1, -1.15, -1.2, -1.3, -1.35], "labels": false, "grid": false, "tickSize": -4}}}},
   {"mark": {"type": "line", "strokeOpacity": 0}, "encoding": {"x": {"field": "x", "type": "quantitative", "scale": {"domain": [0, 100], "nice": false, "zero": false}, "axis": {"orient": "top", "title": null, "values": [5, 10, 15, 25, 30, 35, 45, 50, 55, 65, 70, 75, 85, 90, 95], "labels": false, "grid": false, "tickSize": -4}}, "y": {"field": "y", "type": "quantitative", "scale": {"domain": [-1.4, 0.2], "nice": false, "zero": false}, "axis": {"orient": "right", "title": null, "values": [0.15, 0.1, 0.05, -0.05, -0.1, -0.15, -0.2, -0.3, -0.35, -0.4, -0.45, -0.55, -0.6, -0.65, -0.7, -0.8, -0.85, -0.9, -0.95, -1.05, -1.1, -1.15, -1.2, -1.3, -1.35], "labels": false, "grid": false, "tickSize": -4}}}}
  ]},
 {"title": {"text": "f=0.2 N=1"}, "width": 286, "height": 194, "data": {"name": "p7"}, "resolve": {"axis": {"x": "independent", "y": "independent"}},
  "layer": [
   {"mark": {"type": "line", "color": "#f27a68", "strokeWidth": 2.5}, "encoding": {"x": {"field": "x", "type": "quantitative", "scale": {"domain": [0, 100], "nice": false, "zero": false}, "axis": {"orient": "bottom", "title": null, "values": [0, 20, 40, 60, 80, 100], "grid": true, "ticks": false, "labelPadding": 12, "labelOffset": 6}}, "y": {"field": "y", "type": "quantitative", "scale": {"domain": [-1.4, 0.2], "nice": false, "zero": false}, "axis": {"orient": "left", "title": null, "values": [0, -0.25, -0.5, -0.75, -1, -1.25], "grid": true, "ticks": false, "labelPadding": 10}}}},
   {"mark": {"type": "line", "strokeOpacity": 0}, "encoding": {"x": {"field": "x", "type": "quantitative", "scale": {"domain": [0, 100], "nice": false, "zero": false}, "axis": {"orient": "bottom", "title": null, "values": [0, 20, 40, 60, 80, 100], "labels": false, "grid": false, "tickSize": -8}}, "y": {"field": "y", "type": "quantitative", "scale": {"domain": [-1.4, 0.2], "nice": false, "zero": false}, "axis": {"orient": "left", "title": null, "values": [0, -0.25, -0.5, -0.75, -1, -1.25], "labels": false, "grid": false, "tickSize": -8}}}},
   {"mark": {"type": "line", "strokeOpacity": 0}, "encoding": {"x": {"field": "x", "type": "quantitative", "scale": {"domain": [0, 100], "nice": false, "zero": false}, "axis": {"orient": "top", "title": null, "values": [0, 20, 40, 60, 80, 100], "labels": false, "grid": false, "tickSize": -8}}, "y": {"field": "y", "type": "quantitative", "scale": {"domain": [-1.4, 0.2], "nice": false, "zero": false}, "axis": {"orient": "right", "title": null, "values": [0, -0.25, -0.5, -0.75, -1, -1.25], "labels": false, "grid": false, "tickSize": -8}}}},
   {"mark": {"type": "line", "strokeOpacity": 0}, "encoding": {"x": {"field": "x", "type": "quantitative", "scale": {"domain": [0, 100], "nice": false, "zero": false}, "axis": {"orient": "bottom", "title": null, "values": [5, 10, 15, 25, 30, 35, 45, 50, 55, 65, 70, 75, 85, 90, 95], "labels": false, "grid": false, "tickSize": -4}}, "y": {"field": "y", "type": "quantitative", "scale": {"domain": [-1.4, 0.2], "nice": false, "zero": false}, "axis": {"orient": "left", "title": null, "values": [0.15, 0.1, 0.05, -0.05, -0.1, -0.15, -0.2, -0.3, -0.35, -0.4, -0.45, -0.55, -0.6, -0.65, -0.7, -0.8, -0.85, -0.9, -0.95, -1.05, -1.1, -1.15, -1.2, -1.3, -1.35], "labels": false, "grid": false, "tickSize": -4}}}},
   {"mark": {"type": "line", "strokeOpacity": 0}, "encoding": {"x": {"field": "x", "type": "quantitative", "scale": {"domain": [0, 100], "nice": false, "zero": false}, "axis": {"orient": "top", "title": null, "values": [5, 10, 15, 25, 30, 35, 45, 50, 55, 65, 70, 75, 85, 90, 95], "labels": false, "grid": false, "tickSize": -4}}, "y": {"field": "y", "type": "quantitative", "scale": {"domain": [-1.4, 0.2], "nice": false, "zero": false}, "axis": {"orient": "right", "title": null, "values": [0.15, 0.1, 0.05, -0.05, -0.1, -0.15, -0.2, -0.3, -0.35, -0.4, -0.45, -0.55, -0.6, -0.65, -0.7, -0.8, -0.85, -0.9, -0.95, -1.05, -1.1, -1.15, -1.2, -1.3, -1.35], "labels": false, "grid": false, "tickSize": -4}}}}
  ]},
 {"title": {"text": "f=0.2 N=2"}, "width": 286, "height": 194, "data": {"name": "p8"}, "resolve": {"axis": {"x": "independent", "y": "independent"}},
  "layer": [
   {"mark": {"type": "line", "color": "#f27a68", "strokeWidth": 2.5}, "encoding": {"x": {"field": "x", "type": "quantitative", "scale": {"domain": [0, 100], "nice": false, "zero": false}, "axis": {"orient": "bottom", "title": null, "values": [0, 20, 40, 60, 80, 100], "grid": true, "ticks": false, "labelPadding": 12, "labelOffset": 6}}, "y": {"field": "y", "type": "quantitative", "scale": {"domain": [-1.4, 0.2], "nice": false, "zero": false}, "axis": {"orient": "left", "title": null, "values": [0, -0.25, -0.5, -0.75, -1, -1.25], "grid": true, "ticks": false, "labelPadding": 10}}}},
   {"mark": {"type": "line", "strokeOpacity": 0}, "encoding": {"x": {"field": "x", "type": "quantitative", "scale": {"domain": [0, 100], "nice": false, "zero": false}, "axis": {"orient": "bottom", "title": null, "values": [0, 20, 40, 60, 80, 100], "labels": false, "grid": false, "tickSize": -8}}, "y": {"field": "y", "type": "quantitative", "scale": {"domain": [-1.4, 0.2], "nice": false, "zero": false}, "axis": {"orient": "left", "title": null, "values": [0, -0.25, -0.5, -0.75, -1, -1.25], "labels": false, "grid": false, "tickSize": -8}}}},
   {"mark": {"type": "line", "strokeOpacity": 0}, "encoding": {"x": {"field": "x", "type": "quantitative", "scale": {"domain": [0, 100], "nice": false, "zero": false}, "axis": {"orient": "top", "title": null, "values": [0, 20, 40, 60, 80, 100], "labels": false, "grid": false, "tickSize": -8}}, "y": {"field": "y", "type": "quantitative", "scale": {"domain": [-1.4, 0.2], "nice": false, "zero": false}, "axis": {"orient": "right", "title": null, "values": [0, -0.25, -0.5, -0.75, -1, -1.25], "labels": false, "grid": false, "tickSize": -8}}}},
   {"mark": {"type": "line", "strokeOpacity": 0}, "encoding": {"x": {"field": "x", "type": "quantitative", "scale": {"domain": [0, 100], "nice": false, "zero": false}, "axis": {"orient": "bottom", "title": null, "values": [5, 10, 15, 25, 30, 35, 45, 50, 55, 65, 70, 75, 85, 90, 95], "labels": false, "grid": false, "tickSize": -4}}, "y": {"field": "y", "type": "quantitative", "scale": {"domain": [-1.4, 0.2], "nice": false, "zero": false}, "axis": {"orient": "left", "title": null, "values": [0.15, 0.1, 0.05, -0.05, -0.1, -0.15, -0.2, -0.3, -0.35, -0.4, -0.45, -0.55, -0.6, -0.65, -0.7, -0.8, -0.85, -0.9, -0.95, -1.05, -1.1, -1.15, -1.2, -1.3, -1.35], "labels": false, "grid": false, "tickSize": -4}}}},
   {"mark": {"type": "line", "strokeOpacity": 0}, "encoding": {"x": {"field": "x", "type": "quantitative", "scale": {"domain": [0, 100], "nice": false, "zero": false}, "axis": {"orient": "top", "title": null, "values": [5, 10, 15, 25, 30, 35, 45, 50, 55, 65, 70, 75, 85, 90, 95], "labels": false, "grid": false, "tickSize": -4}}, "y": {"field": "y", "type": "quantitative", "scale": {"domain": [-1.4, 0.2], "nice": false, "zero": false}, "axis": {"orient": "right", "title": null, "values": [0.15, 0.1, 0.05, -0.05, -0.1, -0.15, -0.2, -0.3, -0.35, -0.4, -0.45, -0.55, -0.6, -0.65, -0.7, -0.8, -0.85, -0.9, -0.95, -1.05, -1.1, -1.15, -1.2, -1.3, -1.35], "labels": false, "grid": false, "tickSize": -4}}}}
  ]}
]
}
